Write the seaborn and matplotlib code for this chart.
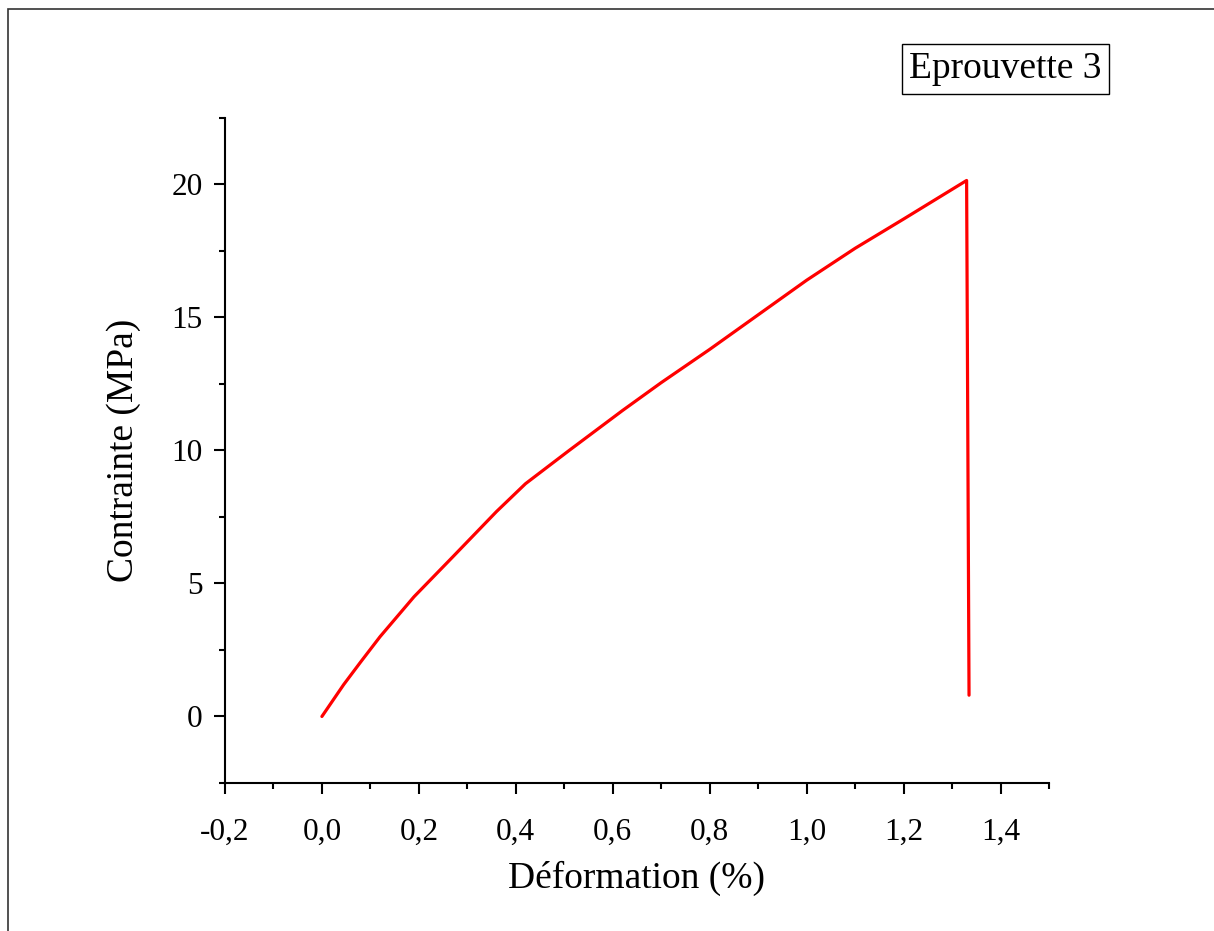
import numpy as np
import pandas as pd
import matplotlib
matplotlib.use('Agg')
import matplotlib.pyplot as plt
from matplotlib.patches import Rectangle
from matplotlib.ticker import FuncFormatter, MultipleLocator
import seaborn as sns

# courbe contrainte - deformation
deformation = [0.0, 0.045, 0.08, 0.12, 0.19, 0.27, 0.36, 0.42, 0.51, 0.62, 0.70,
               0.80, 0.90, 1.00, 1.10, 1.20, 1.33, 1.335]
contrainte = [0.0, 1.2, 2.05, 3.0, 4.5, 6.0, 7.7, 8.75, 10.0, 11.5, 12.55,
              13.8, 15.1, 16.4, 17.6, 18.7, 20.15, 0.8]
titre = 'Eprouvette 3'

df = pd.DataFrame({'deformation': deformation, 'contrainte': contrainte})

sns.set_style('ticks')
plt.rcParams['font.family'] = ['Liberation Serif', 'DejaVu Serif']
plt.rcParams['axes.linewidth'] = 1.5
plt.rcParams['text.color'] = 'black'
plt.rcParams['axes.labelcolor'] = 'black'

fig = plt.figure(figsize=(12.14, 9.31), dpi=100)
ax = fig.add_axes([0.1853, 0.1590, 0.6788, 0.7143])

sns.lineplot(data=df, x='deformation', y='contrainte', sort=False,
             color='#ff0000', linewidth=2.3, ax=ax)

ax.set_xlim(-0.2, 1.5)
ax.set_ylim(-2.5, 22.5)
ax.xaxis.set_major_locator(MultipleLocator(0.2))
ax.xaxis.set_minor_locator(MultipleLocator(0.1))
ax.yaxis.set_major_locator(MultipleLocator(5))
ax.yaxis.set_minor_locator(MultipleLocator(2.5))
ax.xaxis.set_major_formatter(FuncFormatter(lambda v, p: f'{v:.1f}'.replace('.', ',').replace('-0,0', '0,0')))
ax.yaxis.set_major_formatter(FuncFormatter(lambda v, p: f'{v:.0f}'))

sns.despine(ax=ax)
for s in ['left', 'bottom']:
    ax.spines[s].set_color('black')
ax.tick_params(which='major', length=8, width=1.5, labelsize=22.5, colors='black', pad=8)
ax.tick_params(which='minor', length=4, width=1.5, colors='black')
ax.tick_params(axis='x', which='major', pad=17)

ax.set_xlabel('Déformation (%)', fontsize=27, labelpad=10, color='black')
ax.set_ylabel('Contrainte (MPa)', fontsize=27, labelpad=22, color='black')

fig.text(0.9077, 0.9259, titre, fontsize=27, ha='right', va='center', color='black',
         bbox=dict(boxstyle='square,pad=0.2', facecolor='white', edgecolor='black', linewidth=1.0))

# cadre exterieur
fig.patches.append(Rectangle((8 / 1214, -0.1), 1.2, 1.0 - 9 / 931 + 0.1,
                             transform=fig.transFigure, fill=False,
                             edgecolor='#333333', linewidth=1.2))

fig.savefig('out.png', dpi=100)
